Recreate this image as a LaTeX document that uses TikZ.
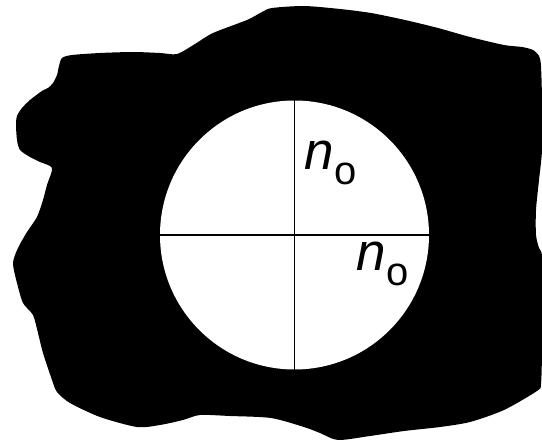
\documentclass[tikz,border=0pt]{standalone}
\usepackage{fontspec}
\setmainfont{Liberation Sans}
\tikzset{
  blob/.style={fill=black, draw=none},
  hole/.style={circle, fill=white, draw=none, inner sep=0pt, minimum size=269pt},
  axis/.style={draw=black, line width=1.5pt},
  lbl/.style={anchor=base west, inner sep=0pt, text=black}
}
\newcommand{\nolabel}{{\fontsize{53}{53}\selectfont\itshape n}\kern1pt\raisebox{-15pt}{\fontsize{40}{40}\selectfont o}}
\begin{document}
\begin{tikzpicture}[x=1pt,y=-1pt]
\useasboundingbox (0,0) rectangle (542,441);
\fill[white] (0,0) rectangle (542,441);
\path[blob] plot[smooth cycle, tension=0.45] coordinates {
 (59,66) (62,58) (72,55) (100,53) (133,52) (160,53) (177,54)
 (195,44) (213,33) (247,20) (262,12) (272,8) (304,6) (340,9) (371,13)
 (405,20) (438,28) (470,37) (504,45) (522,47) (533,50) (539,56) (541,66)
 (542,100) (542,150) (539,180) (536,210) (536,235) (539,248) (542,256)
 (542,300) (542,350) (541,384) (537,391)
 (504,410) (470,422) (440,427) (404,431) (370,436) (338,440)
 (320,433) (304,427) (271,418) (230,416) (200,415) (183,420) (160,425)
 (137,427) (100,417) (70,403) (57,392) (52,380) (43,353) (38,333) (33,315)
 (23,303) (17,283) (13,263) (18,248) (27,232) (37,217) (43,200) (47,185) (52,168)
 (40,162) (30,157) (20,150) (17,140) (16,125) (17,116) (22,108) (30,100)
 (42,91) (48,88) (53,83) (57,75)
};
\node[hole] (hole) at (294.5,235) {};
\draw[axis] (hole.north) -- (hole.south);
\draw[axis] (hole.west) -- (hole.east);
\node[lbl] (lab1) at (304,170) {\nolabel};
\node[lbl] (lab2) at (356,271) {\nolabel};
\end{tikzpicture}
\end{document}
